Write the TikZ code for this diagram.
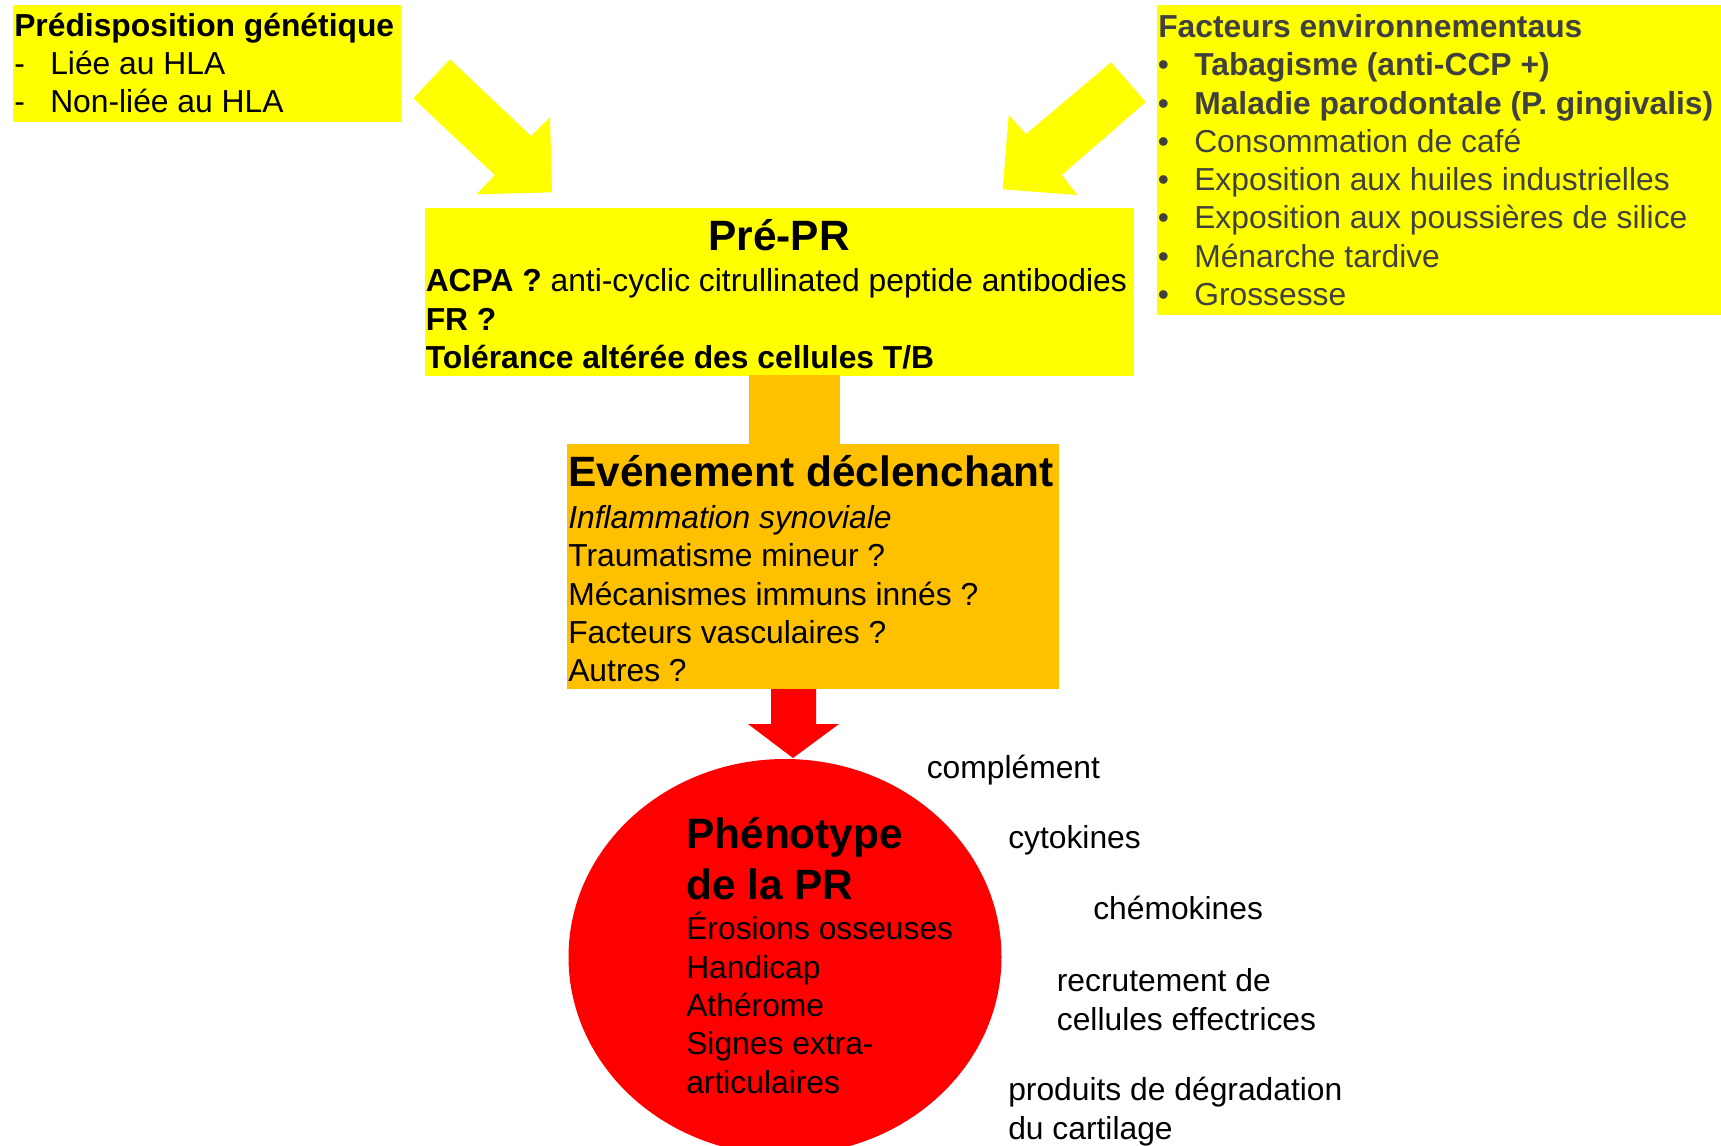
\documentclass[tikz,border=0pt]{standalone}
\usepackage{fontspec}
\setmainfont{Liberation Sans}
\usetikzlibrary{shapes.geometric}
\definecolor{yel}{HTML}{FFFF00}
\definecolor{org}{HTML}{FFC000}
\definecolor{rd}{HTML}{FF0000}
\definecolor{gr}{HTML}{404040}
\begin{document}
\begin{tikzpicture}[x=0.75pt,y=-0.75pt,
  txt/.style={anchor=base west, inner sep=0pt, yshift=-1.3pt, font=\fontsize{23.85}{28.8}\selectfont},
  btxt/.style={txt, font=\fontsize{23.85}{28.8}\selectfont\bfseries},
  big/.style={anchor=base west, inner sep=0pt, yshift=-1.3pt, font=\fontsize{31.8}{38}\selectfont\bfseries},
  gtxt/.style={txt, text=gr}
]
\useasboundingbox (0,0) rectangle (1721,1146);
\fill[white] (0,0) rectangle (1721,1146);

% boxes
\coordinate (Lnw) at (13,5);   \coordinate (Lse) at (401,122);
\coordinate (Rnw) at (1157,5); \coordinate (Rse) at (1721,315);
\coordinate (Pnw) at (424.5,208); \coordinate (Pse) at (1134,375.5);
\coordinate (Cnw) at (749,375); \coordinate (Cse) at (840,445);
\coordinate (Enw) at (567,444); \coordinate (Ese) at (1059,689);
\fill[yel] (Lnw) rectangle (Lse);
\fill[yel] (Rnw) rectangle (Rse);
\fill[yel] (Pnw) rectangle (Pse);
\fill[org] (Cnw) rectangle (Cse);
\fill[org] (Enw) rectangle (Ese);

% yellow block arrows
\fill[yel] (450,59.3) -- (531,136) -- (550,117.3) -- (552,192.3) -- (476.5,194.3) -- (494.8,175) -- (413.3,98.3) -- cycle;
\fill[yel] (1111,62.3) -- (1145.7,102) -- (1061.7,175) -- (1077.3,195) -- (1002.7,189.3) -- (1008.7,115) -- (1026,134) -- cycle;

% ellipse
\node[ellipse, fill=rd, inner sep=0pt, minimum width=324.75pt, minimum height=297pt] (PH) at (785,957) {};

% red arrow
\fill[rd] (771,689) -- (816,689) -- (816,724) -- (839,724) -- (793,758) -- (748,724) -- (771,724) -- cycle;

% left box text
\node[btxt, yshift=0.8pt] (l0) at (14,36) {Prédisposition génétique};
\node[txt, yshift=0.8pt] (l1d) at (14,74.3) {-};
\node[txt, yshift=0.8pt] (l1) at (50,74.3) {Liée au HLA};
\node[txt, yshift=0.8pt] (l2d) at (14,112.3) {-};
\node[txt, yshift=0.8pt] (l2) at (50,112.3) {Non-liée au HLA};

% right box text
\node[gtxt, font=\fontsize{23.85}{28.8}\selectfont\bfseries] (r0) at (1158,35.7) {Facteurs environnementaus};
\foreach \i/\y in {1/74,2/112.3,3/150.6,4/188.9,5/227.2,6/265.5,7/303.8}{
  \node[gtxt] (rb\i) at (1157.5,\y) {•};
}
\node[gtxt, font=\fontsize{23.85}{28.8}\selectfont\bfseries] (r1) at (1194,74) {Tabagisme (anti-CCP +)};
\node[gtxt, font=\fontsize{23.85}{28.8}\selectfont\bfseries] (r2) at (1194,112.3) {Maladie parodontale (P. gingivalis)};
\node[gtxt] (r3) at (1194,150.6) {Consommation de café};
\node[gtxt] (r4) at (1194,188.9) {Exposition aux huiles industrielles};
\node[gtxt] (r5) at (1194,227.2) {Exposition aux poussières de silice};
\node[gtxt] (r6) at (1194,265.5) {Ménarche tardive};
\node[gtxt] (r7) at (1194,303.8) {Grossesse};

% Pre-PR text
\node[big, anchor=base] (p0) at (779,249) {Pré-PR};
\node[txt] (p1) at (425.5,290) {\textbf{ACPA ?} anti-cyclic citrullinated peptide antibodies};
\node[btxt] (p2) at (425.5,328.5) {FR ?};
\node[btxt] (p3) at (425.5,367) {Tolérance altérée des cellules T/B};

% Evenement text
\node[big] (e0) at (568,485) {Evénement déclenchant};
\node[txt, font=\fontsize{23.85}{28.8}\selectfont\itshape] (e1) at (568,526.7) {Inflammation synoviale};
\node[txt] (e2) at (568,565) {Traumatisme mineur ?};
\node[txt] (e3) at (568,603.3) {Mécanismes immuns innés ?};
\node[txt] (e4) at (568,641.6) {Facteurs vasculaires ?};
\node[txt] (e5) at (568,680) {Autres ?};

% Phenotype text
\node[big] (h0) at (686,846.7) {Phénotype};
\node[big] (h1) at (686,898) {de la PR};
\node[txt] (h2) at (686,938) {Érosions osseuses};
\node[txt] (h3) at (686,976.4) {Handicap};
\node[txt] (h4) at (686,1014.8) {Athérome};
\node[txt] (h5) at (686,1053.2) {Signes extra-};
\node[txt] (h6) at (686,1091.6) {articulaires};

% side labels
\node[txt] (s1) at (926.5,776.7) {complément};
\node[txt] (s2) at (1008,846.7) {cytokines};
\node[txt] (s3) at (1093,917.7) {chémokines};
\node[txt] (s4) at (1056.6,990) {recrutement de};
\node[txt] (s5) at (1056.6,1028.4) {cellules effectrices};
\node[txt] (s6) at (1008,1099) {produits de dégradation};
\node[txt] (s7) at (1008,1137.4) {du cartilage};
\end{tikzpicture}
\end{document}
